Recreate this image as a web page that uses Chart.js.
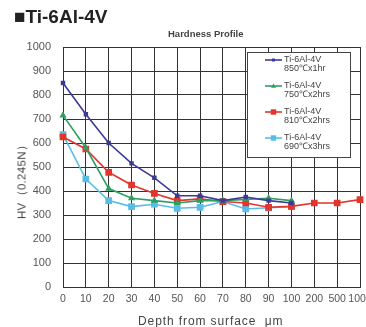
<!DOCTYPE html>
<html>
<head>
<meta charset="utf-8">
<script src="https://cdn.jsdelivr.net/npm/chart.js@4.4.1/dist/chart.umd.min.js"></script>
<style>
  body { margin: 0; background: #fff; }
  #wrap { position: relative; width: 366px; height: 327px; font-family: Arial, "Liberation Sans", sans-serif; }
  #graf { position: absolute; left: 0; top: 0; }
  .txt { position: absolute; white-space: nowrap; color: #333; }
  #titulo { left: 14px; top: 6px; font-size: 19px; font-weight: bold; color: #222; }
  #sub { left: 168px; top: 28px; font-size: 9.5px; font-weight: bold; color: #444; }
  #ytit { left: 22px; top: 179px; font-size: 11.5px; color: #444; transform: translate(-50%, -50%) rotate(-90deg); letter-spacing: 0.3px; }
  #xtit { left: 138px; top: 314px; font-size: 12px; color: #444; letter-spacing: 0.9px; }
</style>
</head>
<body>
<div id="wrap">
  <canvas id="graf" width="366" height="327"></canvas>
  <div class="txt" id="titulo">■Ti-6Al-4V</div>
  <div class="txt" id="sub">Hardness Profile</div>
  <div class="txt" id="ytit">HV（0.245N）</div>
  <div class="txt" id="xtit">Depth from surface&nbsp;&nbsp;μm</div>
</div>
<script>
// Datos
const profundidades = ['0', '10', '20', '30', '40', '50', '60', '70', '80', '90', '100', '200', '500', '1000'];
const serie850 = [850, 720, 600, 515, 455, 380, 380, 360, 375, 360, 350, null, null, null];
const serie750 = [715, 580, 410, 370, 360, 350, 360, 360, 365, 370, 360, null, null, null];
const serie810 = [625, 575, 478, 425, 390, 360, 367, 356, 350, 332, 336, 350, 350, 364];
const serie690 = [635, 450, 360, 335, 345, 328, 332, 356, 325, 330, 335, null, null, null];
const etiquetas = [
  ['Ti-6Al-4V', '850℃x1hr'],
  ['Ti-6Al-4V', '750℃x2hrs'],
  ['Ti-6Al-4V', '810℃x2hrs'],
  ['Ti-6Al-4V', '690℃x3hrs']
];

const colores = ['#3b3a96', '#2f9e62', '#e2352c', '#58bde6'];

function serie(i, datos, forma, radio) {
  return {
    label: etiquetas[i].join(' '),
    data: datos,
    borderColor: colores[i],
    backgroundColor: colores[i],
    borderWidth: 1.6,
    pointStyle: forma,
    pointRadius: radio,
    pointHoverRadius: radio,
    tension: 0,
    spanGaps: false
  };
}

// Leyenda dibujada dentro del área del gráfico
const leyendaCaja = {
  id: 'leyendaCaja',
  afterDraw(chart) {
    const ctx = chart.ctx;
    const x0 = 247, y0 = 52, w = 103, h = 105;
    ctx.save();
    ctx.fillStyle = '#fff';
    ctx.fillRect(x0, y0, w, h);
    ctx.strokeStyle = '#444';
    ctx.lineWidth = 1;
    ctx.strokeRect(x0 + 0.5, y0 + 0.5, w, h);
    chart.data.datasets.forEach((ds, i) => {
      const y = 60 + i * 26;
      ctx.strokeStyle = ds.borderColor;
      ctx.lineWidth = 1.6;
      ctx.beginPath();
      ctx.moveTo(265, y);
      ctx.lineTo(282, y);
      ctx.stroke();
      ctx.fillStyle = ds.backgroundColor;
      const r = ds.pointRadius;
      if (ds.pointStyle === 'triangle') {
        ctx.beginPath();
        ctx.moveTo(273.5, y - r);
        ctx.lineTo(273.5 + r, y + r * 0.7);
        ctx.lineTo(273.5 - r, y + r * 0.7);
        ctx.closePath();
        ctx.fill();
      } else {
        ctx.fillRect(273.5 - r * 0.75, y - r * 0.75, r * 1.5, r * 1.5);
      }
      ctx.fillStyle = '#444';
      ctx.font = '9px Arial, "Liberation Sans", sans-serif';
      ctx.textBaseline = 'middle';
      ctx.fillText(etiquetas[i][0], 284, y);
      ctx.fillText(etiquetas[i][1], 284, y + 9);
    });
    ctx.restore();
  }
};

new Chart(document.getElementById('graf').getContext('2d'), {
  type: 'line',
  data: {
    labels: profundidades,
    datasets: [
      serie(0, serie850, 'rect', 2),
      serie(1, serie750, 'triangle', 2.5),
      serie(2, serie810, 'rect', 3.6),
      serie(3, serie690, 'rect', 3.6)
    ]
  },
  options: {
    responsive: false,
    animation: false,
    layout: { padding: { top: 47, right: 6, left: 0, bottom: 0 } },
    plugins: {
      legend: { display: false },
      tooltip: { enabled: false }
    },
    scales: {
      x: {
        offset: false,
        grid: { color: '#333', lineWidth: 1, drawTicks: false },
        border: { color: '#333' },
        ticks: {
          color: '#555',
          font: { size: 10.5, family: 'Arial, "Liberation Sans", sans-serif' },
          padding: 6,
          maxRotation: 0,
          autoSkip: false
        },
        afterFit(scale) {
          scale.height = 40;
          scale.paddingLeft = 0;
          scale.paddingRight = 0;
        }
      },
      y: {
        min: 0,
        max: 1000,
        grid: { color: '#333', lineWidth: 1, drawTicks: false },
        border: { color: '#333' },
        ticks: {
          stepSize: 100,
          color: '#555',
          font: { size: 11, family: 'Arial, "Liberation Sans", sans-serif' },
          padding: 12,
          callback: (v) => String(v)
        },
        afterFit(scale) {
          scale.width = 63;
          scale.paddingTop = 0;
          scale.paddingBottom = 0;
        }
      }
    }
  },
  plugins: [leyendaCaja]
});
</script>
</body>
</html>
